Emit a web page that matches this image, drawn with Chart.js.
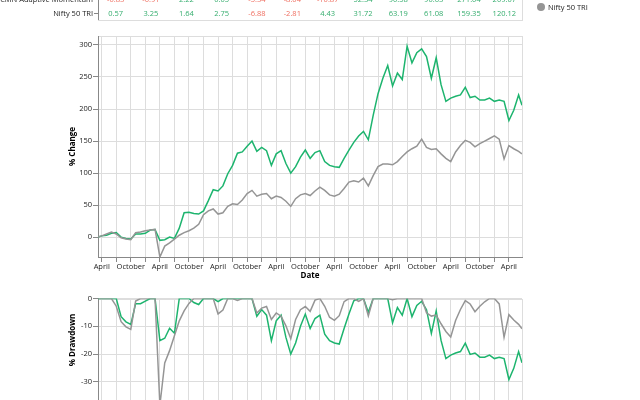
<!DOCTYPE html>
<html>
<head>
<meta charset="utf-8">
<title>CMN Adaptive Momentum vs Nifty 50 TRI</title>
<script src="https://cdn.jsdelivr.net/npm/chart.js@4.4.1/dist/chart.umd.min.js"></script>
<style>
  html, body { margin: 0; padding: 0; background: #fff; overflow: hidden; }
  #page { position: relative; width: 640px; height: 400px; overflow: hidden; font-family: "Open Sans", sans-serif; }
  #changeChart { position: absolute; left: 0; top: 0; }
  #drawdownChart { position: absolute; left: 0; top: 290px; }
  #table, #legend { position: absolute; left: 0; top: 0; width: 640px; height: 30px; }
  .cell { position: absolute; font-size: 7.5px; line-height: 10px; height: 10px; white-space: nowrap; color: #222; }
  .box { position: absolute; border: 1px solid #ddd; }
  .rule { position: absolute; background: #888; }
  .dot { position: absolute; width: 8px; height: 8px; border-radius: 50%; }
</style>
</head>
<body>
<div id="page">
  <canvas id="changeChart" width="640" height="290"></canvas>
  <canvas id="drawdownChart" width="640" height="160"></canvas>
  <div id="table"></div>
  <div id="legend"></div>
</div>
<script>
// series names
const seriesNames = ['CMN Adaptive Momentum', 'Nifty 50 TRI'];
const seriesColors = ['#1db46e', '#959595'];

// return table (top rows)
const momentumStats = [-0.83, -0.91, 2.22, 0.05, -5.34, -8.04, -10.87, 52.34, 90.58, 90.63, 271.04, 209.07];
const niftyStats = [0.57, 3.25, 1.64, 2.75, -6.88, -2.81, 4.43, 31.72, 63.19, 61.08, 159.35, 120.12];

// dates of the readings
const dates = [
  '2019-03-08', '2019-04-01', '2019-05-01', '2019-06-01', '2019-07-01', '2019-08-01', '2019-09-01', '2019-10-01', '2019-11-01', '2019-12-01',
  '2020-01-01', '2020-02-01', '2020-03-01', '2020-04-01', '2020-05-01', '2020-06-01', '2020-07-01', '2020-08-01', '2020-09-01', '2020-10-01', '2020-11-01', '2020-12-01',
  '2021-01-01', '2021-02-01', '2021-03-01', '2021-04-01', '2021-05-01', '2021-06-01', '2021-07-01', '2021-08-01', '2021-09-01', '2021-10-01', '2021-11-01', '2021-12-01',
  '2022-01-01', '2022-02-01', '2022-03-01', '2022-04-01', '2022-05-01', '2022-06-01', '2022-07-01', '2022-08-01', '2022-09-01', '2022-10-01', '2022-11-01', '2022-12-01',
  '2023-01-01', '2023-02-01', '2023-03-01', '2023-04-01', '2023-05-01', '2023-06-01', '2023-07-01', '2023-08-01', '2023-09-01', '2023-10-01', '2023-11-01', '2023-12-01',
  '2024-01-01', '2024-02-01', '2024-03-01', '2024-04-01', '2024-05-01', '2024-06-01', '2024-07-01', '2024-08-01', '2024-09-01', '2024-10-01', '2024-11-01', '2024-12-01',
  '2025-01-01', '2025-02-01', '2025-03-01', '2025-04-01', '2025-05-01', '2025-06-01', '2025-07-01', '2025-08-01', '2025-09-01', '2025-10-01', '2025-11-01', '2025-12-01',
  '2026-01-01', '2026-02-01', '2026-03-01', '2026-04-01', '2026-05-01', '2026-06-01', '2026-06-22'
];

// % change since start
const momentumChange = [
  0, 2, 3, 6, 7, 0, -2, -3, 5, 5,
  6, 11, 12, -5, -4, 0, -2, 14, 38, 39, 37, 36,
  41, 57, 74, 72, 80, 99, 112, 131, 133, 142, 150, 134,
  140, 135, 112, 130, 135, 115, 100, 110, 125, 136, 123, 132,
  135, 118, 112, 110, 109, 123, 136, 148, 158, 165, 152, 190,
  224, 248, 268, 236, 256, 246, 298, 272, 288, 294, 282, 248,
  280, 238, 212, 217, 220, 222, 234, 218, 220, 214, 214, 217,
  212, 214, 212, 182, 198, 222, 206
];
const niftyChange = [
  0, 2, 5, 8, 5, -1, -3, -4, 7, 8,
  10, 11, 12, -31, -14, -9, -3, 3, 7, 10, 14, 20,
  35, 41, 44, 36, 38, 48, 52, 51, 58, 68, 73, 64,
  67, 68, 60, 64, 62, 56, 48, 60, 66, 68, 65, 72,
  78, 73, 66, 64, 67, 76, 86, 88, 86, 92, 80, 96,
  110, 114, 114, 113, 118, 126, 133, 138, 142, 153, 140, 137,
  138, 130, 123, 118, 133, 143, 151, 148, 141, 146, 150, 154,
  158, 153, 122, 143, 138, 134, 130
];

const changeTicks = [0, 50, 100, 150, 200, 250, 300];
const drawdownTicks = [0, -10, -20, -30, -40];

// months since Jan 2019
function monthIndex(s) {
  const [y, m, d] = s.split('-').map(Number);
  return (y - 2019) * 12 + (m - 1) + (d - 1) / 30;
}
const xs = dates.map(monthIndex);

function drawdown(values) {
  let peak = -Infinity;
  return values.map(v => {
    peak = Math.max(peak, v);
    return ((1 + v / 100) / (1 + peak / 100) - 1) * 100;
  });
}

function points(values) {
  return values.map((v, i) => ({ x: xs[i], y: v }));
}

Chart.defaults.font.family = '"Open Sans", sans-serif';
Chart.defaults.font.size = 7.5;
Chart.defaults.color = '#222';

const viewFrame = {
  id: 'viewFrame',
  beforeDraw(chart) {
    const { ctx, chartArea: a } = chart;
    ctx.save();
    ctx.strokeStyle = '#ddd';
    ctx.lineWidth = 1;
    ctx.strokeRect(Math.round(a.left) + 0.5, Math.round(a.top) + 0.5, Math.round(a.right - a.left), Math.round(a.bottom - a.top));
    ctx.restore();
  }
};

// title of the drawdown axis sits a bit above the middle
const drawdownTitle = {
  id: 'drawdownTitle',
  afterDraw(chart) {
    const ctx = chart.ctx;
    ctx.save();
    ctx.translate(72.8, chart.chartArea.top + 41.5);
    ctx.rotate(-Math.PI / 2);
    ctx.font = 'bold 8px "Open Sans", sans-serif';
    ctx.fillStyle = '#000';
    ctx.textAlign = 'center';
    ctx.textBaseline = 'middle';
    ctx.fillText('% Drawdown', 0, 0);
    ctx.restore();
  }
};

function xScale(showTitle) {
  return {
    type: 'linear',
    min: xs[0],
    max: xs[xs.length - 1],
    afterBuildTicks(scale) {
      const t = [];
      for (let m = 3; m <= 89; m += 3) t.push({ value: m });
      scale.ticks = t;
    },
    afterFit(scale) { scale.height = 28; },
    ticks: {
      autoSkip: false, maxRotation: 0, padding: 0,
      callback: v => (v % 12 === 3 ? 'April' : v % 12 === 9 ? 'October' : '')
    },
    grid: { color: '#ddd', tickColor: '#888', tickLength: 5 },
    border: { color: '#888', width: 1 },
    title: { display: showTitle, text: 'Date', color: '#000', font: { size: 8, weight: 'bold' }, padding: { top: 4, bottom: 4 } }
  };
}

function yScale(min, max, tickValues, title) {
  return {
    min: min,
    max: max,
    afterBuildTicks(scale) { scale.ticks = tickValues.map(v => ({ value: v })); },
    afterFit(scale) { scale.width = 34; },
    ticks: { padding: 1 },
    grid: { color: '#ddd', tickColor: '#888', tickLength: 5 },
    border: { color: '#888', width: 1 },
    title: { display: !!title, text: title || '', color: '#000', font: { size: 8, weight: 'bold' }, padding: { top: 4, bottom: 4 } }
  };
}

function datasets(a, b) {
  return [
    { label: seriesNames[0], data: points(a), borderColor: seriesColors[0], borderWidth: 1.5, pointRadius: 0, order: 1 },
    { label: seriesNames[1], data: points(b), borderColor: seriesColors[1], borderWidth: 1.5, pointRadius: 0, order: 0 }
  ];
}

new Chart(document.getElementById('changeChart').getContext('2d'), {
  type: 'line',
  data: { datasets: datasets(momentumChange, niftyChange) },
  options: {
    responsive: false,
    animation: false,
    layout: { padding: { left: 64, right: 118, top: 36, bottom: 5 } },
    plugins: { legend: { display: false }, tooltip: { enabled: false } },
    scales: { x: xScale(true), y: yScale(-31, 314, changeTicks, '% Change') }
  },
  plugins: [viewFrame]
});

new Chart(document.getElementById('drawdownChart').getContext('2d'), {
  type: 'line',
  data: { datasets: datasets(drawdown(momentumChange), drawdown(niftyChange)) },
  options: {
    responsive: false,
    animation: false,
    layout: { padding: { left: 64, right: 118, top: 8.5, bottom: 12.3 } },
    plugins: { legend: { display: false }, tooltip: { enabled: false } },
    scales: { x: xScale(true), y: yScale(-40, 0, drawdownTicks, null) }
  },
  plugins: [viewFrame, drawdownTitle]
});

// stats table above the chart
(function buildTable() {
  const table = document.getElementById('table');
  const left = 98, width = 424, rowH = 13.5, top = -7.5;
  const rows = [momentumStats, niftyStats];
  const colW = width / momentumStats.length;
  const add = (cls, css, text) => {
    const d = document.createElement('div');
    d.className = cls;
    Object.assign(d.style, css);
    if (text !== undefined) d.textContent = text;
    table.appendChild(d);
  };
  add('box', { left: left + 'px', top: top + 'px', width: (width - 1) + 'px', height: (rowH * 2 - 1) + 'px' });
  add('rule', { left: left + 'px', top: top + 'px', width: '1px', height: (rowH * 2) + 'px' });
  rows.forEach((vals, r) => {
    const cy = top + rowH * (r + 0.5);
    add('rule', { left: (left - 4) + 'px', top: Math.round(cy) + 'px', width: '4px', height: '1px' });
    add('cell', { right: (640 - 93) + 'px', top: (cy - 5) + 'px', textAlign: 'right' }, seriesNames[r]);
    vals.forEach((v, i) => {
      add('cell', {
        left: (left + i * colW) + 'px', top: (cy - 5) + 'px', width: colW + 'px', textAlign: 'center',
        color: v < 0 ? '#ef6f61' : '#35ad6e'
      }, v.toFixed(2));
    });
  });
})();

// legend at the right
(function buildLegend() {
  const legend = document.getElementById('legend');
  seriesNames.forEach((name, i) => {
    const cy = 7 - (seriesNames.length - 1 - i) * 16;
    const dot = document.createElement('div');
    dot.className = 'dot';
    Object.assign(dot.style, { left: '537px', top: (cy - 4) + 'px', background: seriesColors[i] });
    legend.appendChild(dot);
    const t = document.createElement('div');
    t.className = 'cell';
    Object.assign(t.style, { left: '548px', top: (cy - 5) + 'px' });
    t.textContent = name;
    legend.appendChild(t);
  });
})();
</script>
</body>
</html>
